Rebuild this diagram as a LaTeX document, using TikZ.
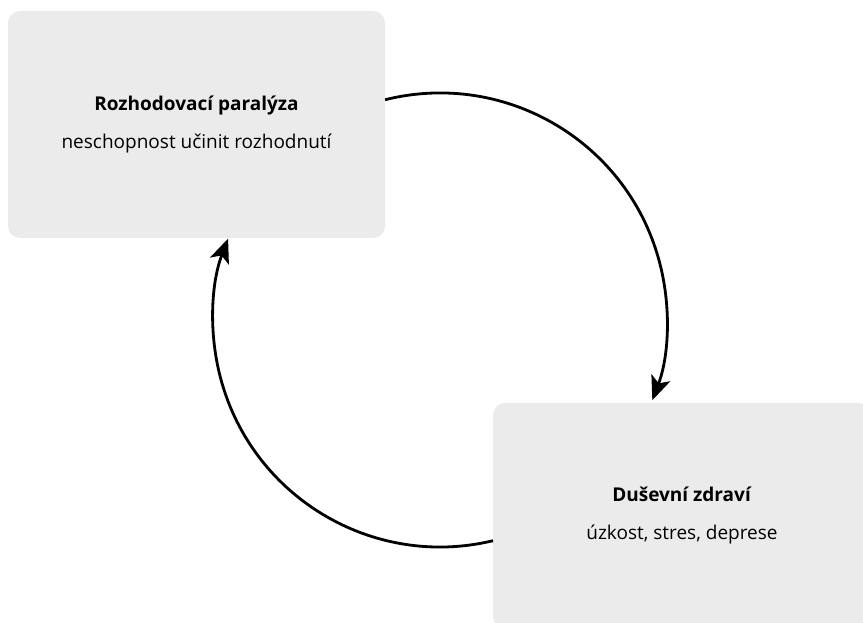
\documentclass[tikz,border=0pt]{standalone}
\usepackage{fontspec}
\setmainfont{Open Sans}
\usetikzlibrary{arrows.meta}
\definecolor{boxgray}{HTML}{EBEBEB}
\tikzset{
  box/.style={fill=boxgray, draw=none, rounded corners=12pt, minimum width=377pt, minimum height=227pt, align=center, inner sep=0pt, font=\fontsize{19}{38}\selectfont},
  cycle/.style={line width=2.8pt, -{Stealth[length=24pt, width=20pt, inset=6pt]}}
}
\begin{document}
\begin{tikzpicture}[x=1pt,y=1pt]
\useasboundingbox (0,0) rectangle (863,623);
\clip (0,0) rectangle (863,623);
\node[box] (paralyza) at (196.5,498.5) {\textbf{Rozhodovací paralýza}\\neschopnost učinit rozhodnutí};
\node[box, minimum width=378pt, minimum height=226pt] (zdravi) at (682,107) {\textbf{Duševní zdraví}\\úzkost, stres, deprese};
\coordinate (c) at (440,303);
\draw[cycle] ([shift={(104:227)}]c) arc[start angle=104, end angle=-20.7, radius=227];
\draw[cycle] ([shift={(283.5:227)}]c) arc[start angle=283.5, end angle=159, radius=227];
\end{tikzpicture}
\end{document}
